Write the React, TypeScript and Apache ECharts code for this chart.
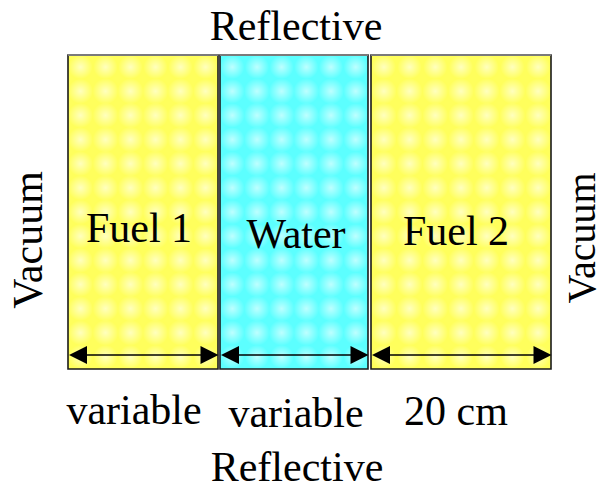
import React, { useEffect, useRef } from "react";
import * as echarts from "echarts";

// ---- data ----
const regionNames = ["Fuel 1", "Water", "Fuel 2"];
const regionStart = [68, 220, 371];
const regionEnd = [218, 368, 551];
const widthLabels = ["variable", "variable", "20 cm"];
const regionKinds = ["fuel", "water", "fuel"];
const topBoundary = "Reflective";
const bottomBoundary = "Reflective";
const leftBoundary = "Vacuum";
const rightBoundary = "Vacuum";

// ---- layout (diagram units) ----
const W = 602;
const H = 493;
const slabTop = 55;
const slabBottom = 369;
const arrowY = 355;
const nameY = [228, 234, 231];
const nameX = [139, 296, 456];
const widthLabelX = [134, 296, 456];
const widthLabelY = [410, 413, 411];
const FONT = '"Liberation Serif", "Times New Roman", serif';

const palette: Record<string, { base: string; spot: string }> = {
  fuel: { base: "#FFFF5C", spot: "rgba(255,255,255,0.6)" },
  water: { base: "#5CFFFF", spot: "rgba(255,255,255,0.6)" },
};

export default function App() {
  const ref = useRef<HTMLDivElement>(null);
  useEffect(() => {
    if (!ref.current) return;
    const chart = echarts.init(ref.current, null, { renderer: "svg" });
    const data = regionNames.map((n, i) => [regionStart[i], regionEnd[i], i]);

    const renderItem = (params: any, api: any) => {
      const i = params.dataIndex;
      const x0 = api.value(0);
      const x1 = api.value(1);
      const pTL = api.coord([x0, slabTop]);
      const pBR = api.coord([x1, slabBottom]);
      const w = pBR[0] - pTL[0];
      const h = pBR[1] - pTL[1];
      const col = palette[regionKinds[i]];
      const children: any[] = [];
      children.push({
        type: "rect",
        shape: { x: pTL[0], y: pTL[1], width: w, height: h },
        style: { fill: col.base },
      });
      // soft light spots texture, evenly filling the slab
      const nx = Math.max(1, Math.round(w / 24.6));
      const ny = Math.max(1, Math.round(h / 25));
      const sx = w / nx;
      const sy = h / ny;
      const r = 13;
      for (let a = 0; a < ny; a++) {
        const yy = pTL[1] + sy * (a + 0.5);
        for (let b = 0; b < nx; b++) {
          const xx = pTL[0] + sx * (b + 0.5);
          const rr = Math.min(r, xx - pTL[0], pBR[0] - xx, yy - pTL[1], pBR[1] - yy);
          children.push({
            type: "circle",
            shape: { cx: xx, cy: yy, r: rr },
            style: {
              fill: {
                type: "radial",
                x: 0.5,
                y: 0.5,
                r: 0.5,
                colorStops: [
                  { offset: 0, color: col.spot },
                  { offset: 1, color: "rgba(255,255,255,0)" },
                ],
              },
            },
          });
        }
      }
      // border
      children.push({
        type: "rect",
        shape: { x: pTL[0], y: pTL[1], width: w, height: h },
        style: { fill: "none", stroke: "#1a1a1a", lineWidth: 1.6 },
      });
      children.push({
        type: "line",
        shape: { x1: pTL[0], y1: pTL[1], x2: pBR[0], y2: pTL[1] },
        style: { stroke: "#7a7a7a", lineWidth: 2 },
      });
      // region name
      const np = api.coord([nameX[i], nameY[i]]);
      children.push({
        type: "text",
        x: np[0],
        y: np[1],
        style: {
          text: regionNames[i],
          font: `42px ${FONT}`,
          fill: "#000",
          align: "center",
          verticalAlign: "middle",
        },
      });
      // double arrow
      const ay = api.coord([x0, arrowY])[1];
      const xl = pTL[0] + 1;
      const xr = pBR[0] + 0.5;
      const hl = 18;
      const hh = 9;
      children.push({
        type: "line",
        shape: { x1: xl + hl - 2, y1: ay, x2: xr - hl + 2, y2: ay },
        style: { stroke: "#000", lineWidth: 1.3 },
      });
      children.push({
        type: "polygon",
        shape: { points: [[xl, ay], [xl + hl, ay - hh], [xl + hl, ay + hh]] },
        style: { fill: "#000" },
      });
      children.push({
        type: "polygon",
        shape: { points: [[xr, ay], [xr - hl, ay - hh], [xr - hl, ay + hh]] },
        style: { fill: "#000" },
      });
      // width label
      const wp = api.coord([widthLabelX[i], widthLabelY[i]]);
      children.push({
        type: "text",
        x: wp[0],
        y: wp[1],
        style: {
          text: widthLabels[i],
          font: `42px ${FONT}`,
          fill: "#000",
          align: "center",
          verticalAlign: "middle",
        },
      });
      return { type: "group", children };
    };

    const textStyle = (t: string, size = 42) => ({
      text: t,
      font: `${size}px ${FONT}`,
      fill: "#000",
      align: "center",
      verticalAlign: "middle",
    });

    chart.setOption({
      animation: false,
      backgroundColor: "#ffffff",
      grid: { left: 0, right: 0, top: 0, bottom: 0 },
      xAxis: { type: "value", min: 0, max: W, show: false },
      yAxis: { type: "value", min: 0, max: H, inverse: true, show: false },
      series: [
        {
          type: "custom",
          renderItem,
          data,
          encode: { x: [0, 1] },
          clip: false,
        },
      ],
      graphic: [
        { type: "text", x: 296, y: 26, style: textStyle(topBoundary) },
        { type: "text", x: 297, y: 467, style: textStyle(bottomBoundary) },
        { type: "text", x: 28, y: 240, rotation: Math.PI / 2, style: textStyle(leftBoundary) },
        { type: "text", x: 581, y: 238, rotation: Math.PI / 2, style: textStyle(rightBoundary, 40) },
      ],
    });
    return () => chart.dispose();
  }, []);
  return (
    <div
      ref={ref}
      style={{ position: "absolute", left: 0, top: 0, width: W, height: H }}
    />
  );
}
